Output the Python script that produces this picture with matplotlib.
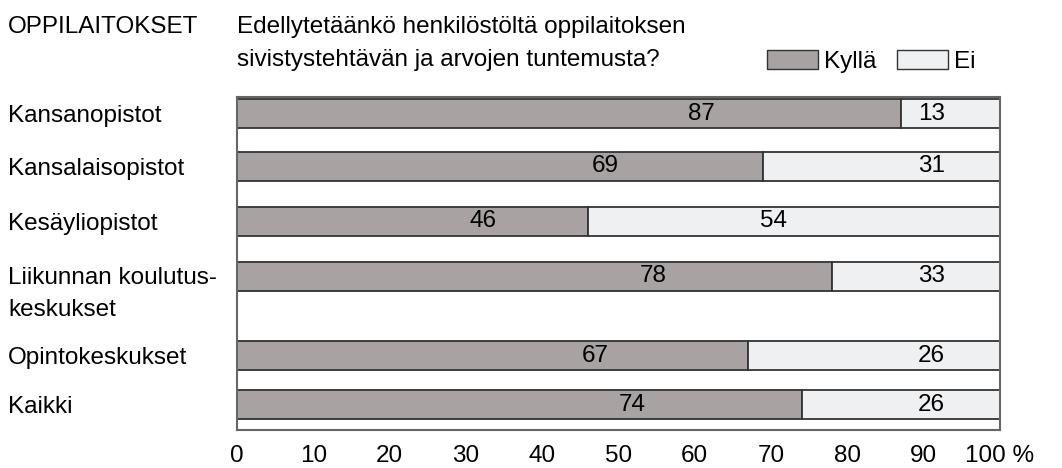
import matplotlib.pyplot as plt
from matplotlib.patches import Patch

# data
categories = ["Kansanopistot", "Kansalaisopistot", "Kesäyliopistot",
              "Liikunnan koulutus-\nkeskukset", "Opintokeskukset", "Kaikki"]
kylla = [87, 69, 46, 78, 67, 74]
ei = [13, 31, 54, 33, 26, 26]
ticks = [0, 10, 20, 30, 40, 50, 60, 70, 80, 90, 100]
tick_labels = ["0", "10", "20", "30", "40", "50", "60", "70", "80", "90", "100 %"]

# layout (row centres in pixels from top, two-line label gets extra room)
row_y = [113.5, 166, 221, 276, 355.5, 404.5]
BAR_H = 29
W, H = 1062, 468

KYLLA_COL = "#a8a2a2"
EI_COL = "#eff0f2"
EDGE = "#333333"

plt.rcParams['font.family'] = ['Liberation Sans', 'DejaVu Sans']
FS = 17.5


def fy(y):
    return 1 - y / H


fig = plt.figure(figsize=(W / 100, H / 100), dpi=100)
ax = fig.add_axes([237 / W, fy(430), (1000 - 237) / W, (430 - 97) / H])

ei_width = [100 - k for k in kylla]
ax.barh(row_y, kylla, height=BAR_H, color=KYLLA_COL, edgecolor=EDGE, linewidth=1.3)
ax.barh(row_y, ei_width, left=kylla, height=BAR_H, color=EI_COL, edgecolor=EDGE, linewidth=1.3)

for y, k, e in zip(row_y, kylla, ei):
    ax.text(k * 0.70, y, str(k), ha="center", va="center", fontsize=FS)
    ex = 91 if 100 - k < 40 else k + (100 - k) * 0.45
    ax.text(ex, y, str(e), ha="center", va="center", fontsize=FS)

ax.set_xlim(0, 100)
ax.set_ylim(430, 97)
ax.set_yticks([])
ax.set_xticks(ticks)
ax.set_xticklabels(tick_labels, fontsize=FS)
ax.tick_params(axis="x", length=0, pad=11)
for s in ax.spines.values():
    s.set_color("#666666")
    s.set_linewidth(1.5)

# category names, first line level with the bar
for y, c in zip(row_y, categories):
    for i, line in enumerate(c.split("\n")):
        fig.text(8 / W, fy(y + 8.5 + 31 * i), line, ha="left", va="baseline", fontsize=FS)

fig.text(8 / W, fy(33), "OPPILAITOKSET", ha="left", va="baseline", fontsize=FS)
fig.text(237 / W, fy(33), "Edellytetäänkö henkilöstöltä oppilaitoksen",
         ha="left", va="baseline", fontsize=FS)
fig.text(237 / W, fy(66), "sivistystehtävän ja arvojen tuntemusta?",
         ha="left", va="baseline", fontsize=FS)

handles = [Patch(facecolor=KYLLA_COL, edgecolor=EDGE, linewidth=1),
           Patch(facecolor=EI_COL, edgecolor=EDGE, linewidth=1)]
fig.legend(handles, ["Kyllä", "Ei"], ncol=2, frameon=False, fontsize=FS,
           loc="center left", bbox_to_anchor=(767 / W, fy(61.5)),
           handlelength=2.1, handleheight=0.8, handletextpad=0.25, columnspacing=0.85,
           borderaxespad=0, borderpad=0)

fig.savefig("out.png", dpi=100)
